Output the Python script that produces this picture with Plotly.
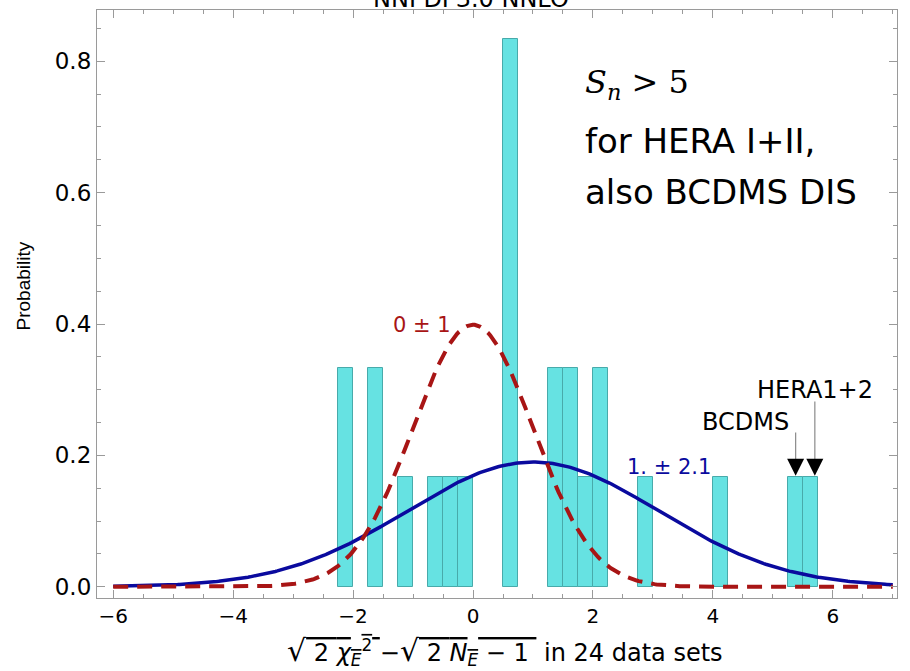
import math
import plotly.graph_objects as go

# ---- data ----
bin_centers = [-2.125, -1.625, -1.125, -0.625, -0.375, -0.125, 0.625,
               1.375, 1.625, 1.875, 2.125, 2.875, 4.125, 5.375, 5.625]
bin_counts = [2, 2, 1, 1, 1, 1, 5, 2, 2, 1, 2, 1, 1, 1, 1]
n_sets = 24
bin_width = 0.25

ref_mu, ref_sigma = 0.0, 1.0      # "0 ± 1"
fit_mu, fit_sigma = 1.0, 2.1      # "1. ± 2.1"
curve_x_min, curve_x_max = -6.0, 7.0

arrow_names = ["BCDMS", "HERA1+2"]
arrow_x = [5.38, 5.70]
arrow_tip_y = [0.169, 0.169]
arrow_top_y = [0.235, 0.282]

xtick_vals = [-6, -4, -2, 0, 2, 4, 6]
xtick_text = ["\u22126", "\u22124", "\u22122", "0", "2", "4", "6"]
ytick_vals = [0.0, 0.2, 0.4, 0.6, 0.8]
ytick_text = ["0.0", "0.2", "0.4", "0.6", "0.8"]

# ---- derived ----
density = [c / n_sets / bin_width for c in bin_counts]

def gauss(x, mu, s):
    return math.exp(-0.5 * ((x - mu) / s) ** 2) / (s * math.sqrt(2 * math.pi))

n_pts = 400
xs = [curve_x_min + (curve_x_max - curve_x_min) * i / (n_pts - 1) for i in range(n_pts)]
ref_y = [gauss(x, ref_mu, ref_sigma) for x in xs]
fit_y = [gauss(x, fit_mu, fit_sigma) for x in xs]

WIDE = "DejaVu Sans"
RED = "#A81515"
BLUE = "#0A0A9E"

fig = go.Figure()
fig.add_trace(go.Bar(x=bin_centers, y=density, width=bin_width,
                     marker=dict(color="#66E2E2", line=dict(color="#48AAAA", width=1)),
                     showlegend=False, hoverinfo="x+y"))
fig.add_trace(go.Scatter(x=xs, y=fit_y, mode="lines",
                         line=dict(color=BLUE, width=3.5), showlegend=False))
fig.add_trace(go.Scatter(x=xs, y=ref_y, mode="lines",
                         line=dict(color=RED, width=4, dash="15px,9px"), showlegend=False))
# arrow stems (gray) and heads (black)
for ax_, tip, top in zip(arrow_x, arrow_tip_y, arrow_top_y):
    fig.add_trace(go.Scatter(x=[ax_, ax_], y=[top, tip + 0.02], mode="lines",
                             line=dict(color="#8a8a8a", width=1.2),
                             showlegend=False, hoverinfo="skip"))
fig.add_trace(go.Scatter(x=arrow_x, y=arrow_tip_y, mode="markers",
                         marker=dict(symbol="arrow-down", size=17, color="black"),
                         showlegend=False, hoverinfo="skip"))

xtitle = ("<span style='font-size:30px'>\u221a</span>"
          "<span style='text-decoration:overline'> 2 <i>\u03c7<sub>E</sub></i><sup>2</sup> </span>"
          "\u2212<span style='font-size:30px'>\u221a</span>"
          "<span style='text-decoration:overline'> 2 <i>N<sub>E</sub></i> \u2212 1 </span>"
          " in 24 data sets")

annotations = [
    dict(x=4.55, y=0.251, xref="x", yref="y", text=arrow_names[0], showarrow=False,
         font=dict(family=WIDE, size=24, color="black")),
    dict(x=5.70, y=0.300, xref="x", yref="y", text=arrow_names[1], showarrow=False,
         font=dict(family=WIDE, size=24, color="black")),
    dict(x=-0.85, y=0.398, xref="x", yref="y", text="0 \u00b1 1", showarrow=False,
         font=dict(family=WIDE, size=21, color=RED)),
    dict(x=3.27, y=0.182, xref="x", yref="y", text="1. \u00b1 2.1", showarrow=False,
         font=dict(family=WIDE, size=21, color=BLUE)),
    dict(x=1.83, y=0.765, xref="x", yref="y", xanchor="left",
         text="<i>S</i><sub><i>n</i></sub> > 5", showarrow=False,
         font=dict(family="DejaVu Serif", size=32, color="black")),
    dict(x=1.83, y=0.678, xref="x", yref="y", xanchor="left",
         text="for HERA I+II,", showarrow=False,
         font=dict(family=WIDE, size=34, color="black")),
    dict(x=1.83, y=0.601, xref="x", yref="y", xanchor="left",
         text="also BCDMS DIS", showarrow=False,
         font=dict(family=WIDE, size=34, color="black")),
    dict(x=0.4675, y=1, xref="paper", yref="paper", yanchor="bottom", yshift=-5,
         text="NNPDF3.0 NNLO", showarrow=False,
         font=dict(family=WIDE, size=24, color="black")),
    dict(x=-0.108, y=0.53, xref="paper", yref="paper", textangle=-90,
         text="Probability", showarrow=False,
         font=dict(family="Liberation Sans, Arial", size=19, color="black")),
    dict(x=0.51, y=-0.125, xref="paper", yref="paper",
         text=xtitle, showarrow=False,
         font=dict(family=WIDE, size=24, color="black")),
]

axis_common = dict(showgrid=False, zeroline=False, showline=True, linecolor="#9a9a9a",
                   linewidth=1.2, mirror="ticks", ticks="inside", tickcolor="#9a9a9a",
                   ticklen=8, tickwidth=1)

fig.update_layout(
    width=910, height=671,
    margin=dict(l=97, r=13, t=10, b=73),
    plot_bgcolor="white", paper_bgcolor="white",
    bargap=0,
    annotations=annotations,
    xaxis=dict(range=[-6.27, 7.07], tickvals=xtick_vals, ticktext=xtick_text,
               tickfont=dict(family=WIDE, size=20, color="black"),
               minor=dict(dtick=0.5, tick0=0, ticks="inside", ticklen=4, tickcolor="#9a9a9a"),
               **axis_common),
    yaxis=dict(range=[-0.017, 0.878], tickvals=ytick_vals, ticktext=ytick_text,
               tickfont=dict(family=WIDE, size=23, color="black"),
               minor=dict(dtick=0.05, tick0=0, ticks="inside", ticklen=4, tickcolor="#9a9a9a"),
               **axis_common),
)

fig.write_html("out.html")
